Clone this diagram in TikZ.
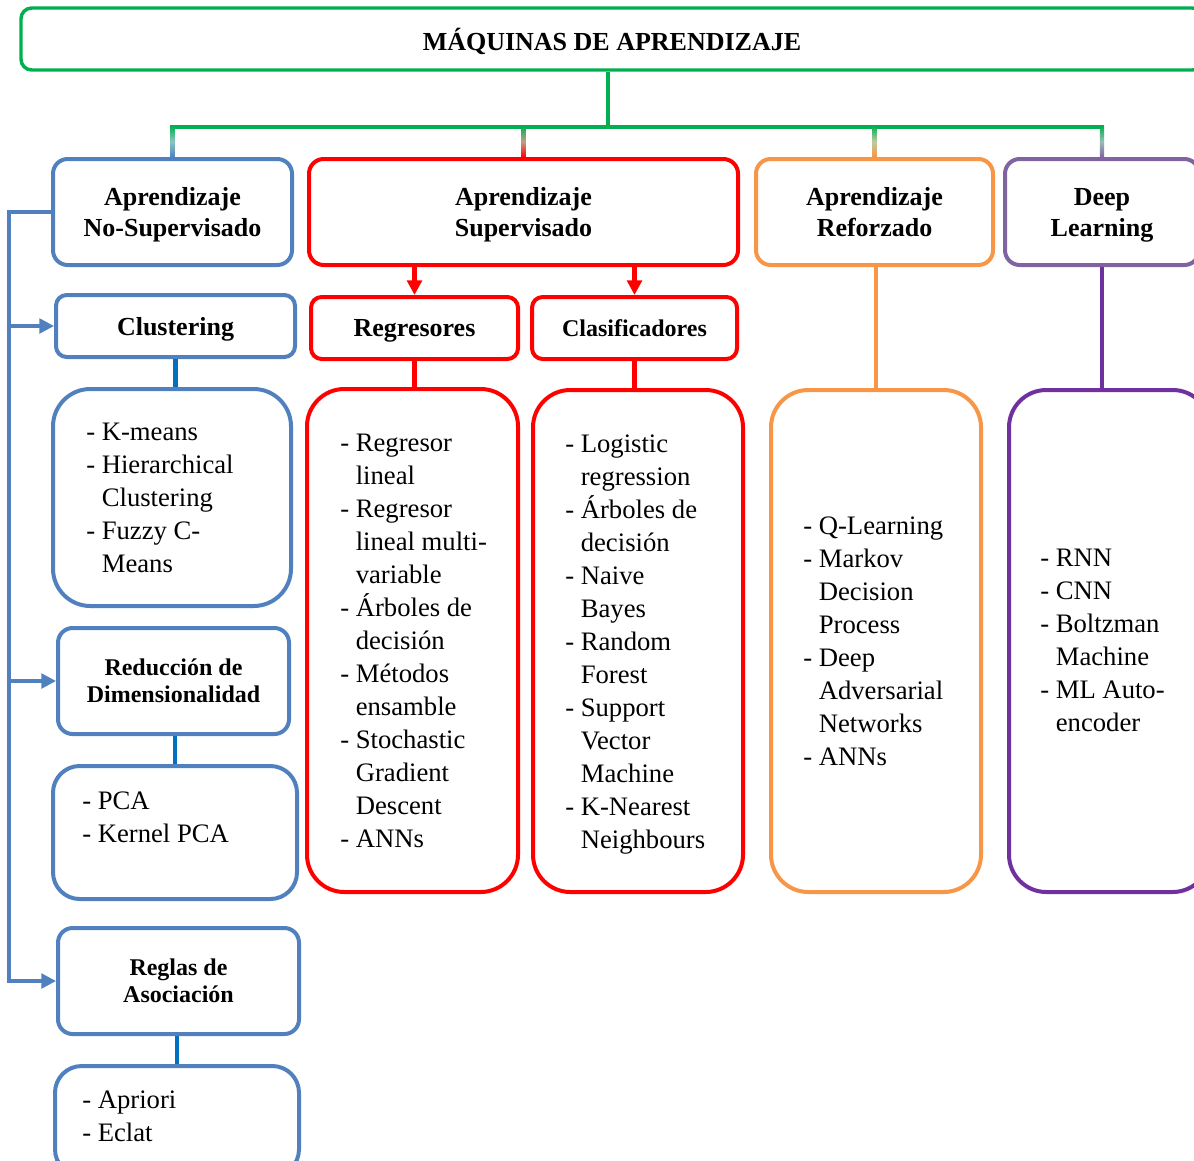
\documentclass[tikz,border=0pt]{standalone}
\usepackage{fontspec}
\setmainfont{Liberation Serif}
\usetikzlibrary{arrows.meta,calc}
\definecolor{cgreen}{HTML}{00B050}
\definecolor{cblue}{HTML}{5081BE}
\definecolor{cdblue}{HTML}{0070C0}
\definecolor{cred}{HTML}{FF0000}
\definecolor{corange}{HTML}{F79646}
\definecolor{cpurple}{HTML}{8064A2}
\definecolor{cdpurple}{HTML}{7030A0}
\newcommand\hdfont{\fontsize{19.5}{23.25}\selectfont\bfseries}
\newcommand\hdsmall{\fontsize{18}{20.25}\selectfont\bfseries}
\newcommand\lstfont{\fontsize{20}{24.75}\selectfont}
\newcommand\itemlist[1]{\begin{tabular}[t]{@{}l@{\ }l@{}}#1\end{tabular}}
\begin{document}
\begin{tikzpicture}[x=0.75pt,y=-0.75pt,
  frame/.style={draw=#1, line width=3pt, rounded corners=11pt, inner sep=0pt, align=center, font=\hdfont, text depth=0pt},
  listframe/.style={draw=#1, line width=3pt, rounded corners=28pt, inner sep=0pt},
  wh/.style 2 args={minimum width=#1*0.75pt, minimum height=#2*0.75pt},
  listtext/.style={anchor=base west, inner sep=0pt, font=\lstfont},
  link/.style={draw=#1, line width=3.2pt},
  tip/.style={-{Triangle[length=11pt,width=11pt]}},
  spine/.style={draw=cblue, line width=2.5pt}]
\useasboundingbox (0,0) rectangle (1194,1160);
\clip (0,0) rectangle (1194,1160);

% root
\node[frame=cgreen, wh={1182}{62}, rounded corners=8pt, line width=2.6pt] (title) at (612,39) {MÁQUINAS DE APRENDIZAJE};

% four families
\node[frame=cblue,   wh={239}{106}] (uns)  at (172.5,212) {Aprendizaje\\No-Supervisado};
\node[frame=cred,    wh={429}{106}] (sup)  at (523.5,212) {Aprendizaje\\Supervisado};
\node[frame=corange, wh={237}{106}] (ref)  at (874.5,212) {Aprendizaje\\Reforzado};
\node[frame=cpurple, wh={194}{106}] (deep) at (1102,212)  {Deep\\Learning};

% tree from the root
\coordinate (hub) at (608,127);
\draw[link=cgreen] (hub |- title.south) -- (hub);
\draw[link=cgreen, line cap=rect] (uns.north |- hub) -- (deep.north |- hub);
\foreach \n/\c in {uns/cblue, sup/cred, ref/corange, deep/cpurple}{
  \shade[top color=cgreen, bottom color=\c, middle color=cgreen!45!\c!55!white]
    ($(\n.north)+(-2.2,-31)$) rectangle ($(\n.north)+(2.2,0)$);
}

% unsupervised branch
\node[frame=cblue, wh={239}{62}, rounded corners=8pt] (clus) at (175.5,326) {Clustering};
\node[listframe=cblue, wh={238}{217}] (clusL) at (172,497.5) {};
\node[frame=cblue, wh={231}{106}, font=\hdsmall] (red) at (173.5,681) {Reducción de\\Dimensionalidad};
\node[listframe=cblue, wh={244}{133}, rounded corners=20pt] (redL) at (175,832.5) {};
\node[frame=cblue, wh={241}{106}, font=\hdsmall] (reg) at (178.5,981) {Reglas de\\Asociación};
\node[listframe=cblue, wh={244}{110}, rounded corners=20pt] (regL) at (177,1121) {};

\node[listtext] (clusT) at (86,440) {\itemlist{- & K-means\\ - & Hierarchical\\ & Clustering\\ - & Fuzzy C-\\ & Means}};
\node[listtext] (redT) at (82,809) {\itemlist{- & PCA\\ - & Kernel PCA}};
\node[listtext] (regT) at (82,1108) {\itemlist{- & Apriori\\ - & Eclat}};

\draw[link=cdblue] (clus.south) -- (clus.south |- clusL.north);
\draw[link=cdblue] (redL.north |- red.south) -- (redL.north);
\draw[link=cdblue] (regL.north |- reg.south) -- (regL.north);

\coordinate (spineX) at (9,0);
\draw[spine, tip] (uns.west) -- (uns.west -| spineX) -- (reg.west -| spineX) -- (reg.west);
\draw[spine, tip] (clus.west -| spineX) -- (clus.west);
\draw[spine, tip] (red.west -| spineX) -- (red.west);

% supervised branch
\node[frame=cred, wh={207}{62}, rounded corners=8pt] (rgs) at (414.5,328) {Regresores};
\node[frame=cred, wh={205}{62}, rounded corners=8pt, font=\hdsmall] (cla) at (634.5,328) {Clasificadores};
\node[listframe=cred, wh={211}{503}] (rgsL) at (412.5,640.5) {};
\node[listframe=cred, wh={210}{502}] (claL) at (638,641) {};

\draw[link=cred, tip] (rgs.north |- sup.south) -- (rgs.north);
\draw[link=cred, tip] (cla.north |- sup.south) -- (cla.north);
\draw[link=cred] (rgs.south) -- (rgs.south |- rgsL.north);
\draw[link=cred] (cla.south) -- (cla.south |- claL.north);

\node[listtext] (rgsT) at (340,451) {\itemlist{- & Regresor\\ & lineal\\ - & Regresor\\ & lineal multi-\\ & variable\\ - & Árboles de\\ & decisión\\ - & Métodos\\ & ensamble\\ - & Stochastic\\ & Gradient\\ & Descent\\ - & ANNs}};
\node[listtext] (claT) at (565,452) {\itemlist{- & Logistic\\ & regression\\ - & Árboles de\\ & decisión\\ - & Naive\\ & Bayes\\ - & Random\\ & Forest\\ - & Support\\ & Vector\\ & Machine\\ - & K-Nearest\\ & Neighbours}};

% reinforcement branch
\node[listframe=corange, wh={210}{502}] (refL) at (876,641) {};
\draw[link=corange] (refL.north |- ref.south) -- (refL.north);
\node[listtext] (refT) at (803,534) {\itemlist{- & Q-Learning\\ - & Markov\\ & Decision\\ & Process\\ - & Deep\\ & Adversarial\\ & Networks\\ - & ANNs}};

% deep learning branch
\node[listframe=cdpurple, wh={201}{502}] (deepL) at (1109.5,641) {};
\draw[link=cdpurple] (deep.south) -- (deep.south |- deepL.north);
\node[listtext] (deepT) at (1040,566) {\itemlist{- & RNN\\ - & CNN\\ - & Boltzman\\ & Machine\\ - & ML Auto-\\ & encoder}};
\end{tikzpicture}
\end{document}
